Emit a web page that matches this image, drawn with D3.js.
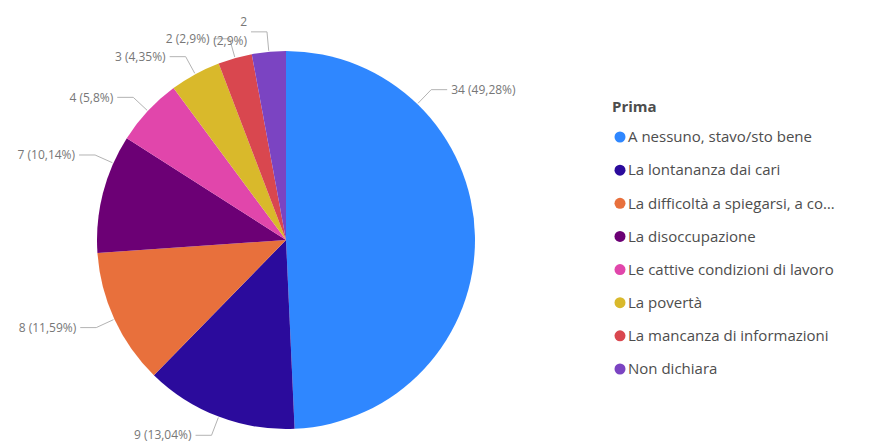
<!DOCTYPE html>
<html>
<head>
<meta charset="utf-8">
<script src="https://cdn.jsdelivr.net/npm/d3@7"></script>
<style>
  body { margin: 0; background: #fff; }
  svg { display: block; }
</style>
</head>
<body>
<div id="chart"></div>
<script>
// dati
const legendTitle = "Prima";
const categories = [
  "A nessuno, stavo/sto bene",
  "La lontananza dai cari",
  "La difficoltà a spiegarsi, a co…",
  "La disoccupazione",
  "Le cattive condizioni di lavoro",
  "La povertà",
  "La mancanza di informazioni",
  "Non dichiara"
];
const values = [34, 9, 8, 7, 4, 3, 2, 2];
const colors = ["#2F87FF", "#2B0B9C", "#E8703C", "#6C0075", "#E146AB", "#D9B92B", "#D9474F", "#7B44C2"];

var width = 869,
height = 447,
cx = 286,
cy = 240,
radius = 189;

var svg = d3.select("#chart")
.append("svg")
.attr("width", width)
.attr("height", height);

var total = d3.sum(values);

function pctText(v) {
  return (+(v / total * 100).toFixed(2)).toString().replace(".", ",");
}

var pie = d3.pie().sort(null).value(function(d) { return d; });
var arcs = pie(values);

var arc = d3.arc().innerRadius(0).outerRadius(radius);

var g = svg.append("g").attr("transform", `translate(${cx},${cy})`);

g.selectAll("path")
.data(arcs)
.enter()
.append("path")
.attr("d", arc)
.style("fill", function(d, i) { return colors[i]; });

// Power BI sposta alcune etichette dal centro della fetta
var labelAngleDeg = {0: 44, 3: 294};
var wrapLabel = {7: true};

var labelG = svg.append("g").attr("transform", `translate(${cx},${cy})`);

arcs.forEach(function(d, i) {
  var a = labelAngleDeg[i] != null ? labelAngleDeg[i] * Math.PI / 180 : (d.startAngle + d.endAngle) / 2;
  var sx = Math.sin(a), sy = -Math.cos(a);
  var p0 = [sx * (radius + 1), sy * (radius + 1)];
  var p1 = [sx * (radius + 20), sy * (radius + 20)];
  var dir = sx >= 0 ? 1 : -1;
  var p2 = [p1[0] + dir * 16, p1[1]];

  labelG.append("path")
  .attr("d", d3.line()([p0, p1, p2]))
  .style("fill", "none")
  .style("stroke", "#b3b3b3")
  .style("stroke-width", 1);

  var txt = labelG.append("text")
  .attr("x", p2[0] + dir * 4)
  .attr("y", p2[1])
  .attr("text-anchor", dir > 0 ? "start" : "end")
  .attr("font-family", "Open Sans, sans-serif")
  .attr("font-size", 12)
  .attr("fill", "#777");

  var count = values[i].toString();
  var pct = "(" + pctText(values[i]) + "%)";
  if (wrapLabel[i]) {
    txt.append("tspan").attr("x", p2[0] + dir * 4).attr("dy", "-0.5em").text(count);
    txt.append("tspan").attr("x", p2[0] + dir * 4).attr("dy", "1.6em").text(pct);
  } else {
    txt.attr("dy", "0.35em").text(count + " " + pct);
  }
});

// legenda
var legend = svg.append("g").attr("transform", "translate(612, 0)");

legend.append("text")
.attr("x", 0)
.attr("y", 107)
.attr("dy", "0.35em")
.attr("font-family", "Open Sans, sans-serif")
.attr("font-weight", "bold")
.attr("font-size", 15)
.attr("fill", "#4d4d4d")
.text(legendTitle);

var legendY = d3.scalePoint()
.domain(d3.range(categories.length))
.range([137, 369]);

var items = legend.selectAll("g.item")
.data(categories)
.enter()
.append("g")
.attr("class", "item")
.attr("transform", function(d, i) { return `translate(0, ${legendY(i)})`; });

items.append("circle")
.attr("cx", 8)
.attr("cy", 0)
.attr("r", 5.5)
.style("fill", function(d, i) { return colors[i]; });

items.append("text")
.attr("x", 16)
.attr("y", 0)
.attr("dy", "0.35em")
.attr("font-family", "Open Sans, sans-serif")
.attr("font-size", 15)
.attr("fill", "#4d4d4d")
.text(function(d) { return d; });
</script>
</body>
</html>
